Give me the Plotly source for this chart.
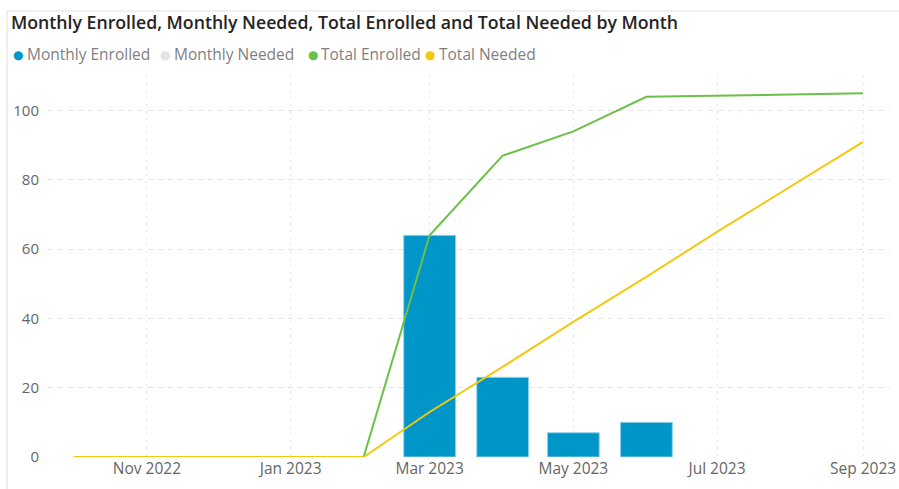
import plotly.graph_objects as go

# ---- data ----
months = ["2022-10-01", "2022-11-01", "2022-12-01", "2023-01-01", "2023-02-01",
          "2023-03-01", "2023-04-01", "2023-05-01", "2023-06-01", "2023-07-01",
          "2023-08-01", "2023-09-01"]
monthly_enrolled = [None, None, None, None, None, 64, 23, 7, 10, None, None, None]
monthly_needed = [None] * 12
total_enrolled = [0, 0, 0, 0, 0, 64, 87, 94, 104, None, None, 105]
total_needed = [0, 0, 0, 0, 0, 13, 26, 39, 52, 65, 78, 91]

series_names = ["Monthly Enrolled", "Monthly Needed", "Total Enrolled", "Total Needed"]
series_colors = ["#0096C8", "#E3E3E3", "#6CC04A", "#F2C811"]
title_text = "Monthly Enrolled, Monthly Needed, Total Enrolled and Total Needed by Month"

W, H = 899, 489
ML, MR, MT, MB = 48, 10, 76, 32
PW, PH = W - ML - MR, H - MT - MB

def px_x(p):
    return (p - ML) / PW

def px_y(p):
    return (H - MB - p) / PH

bar_width_ms = 22 * 86400000

fig = go.Figure()
fig.add_trace(go.Bar(x=months, y=monthly_enrolled, name=series_names[0],
                     marker=dict(color=series_colors[0], line=dict(color="#8fd0ea", width=1)),
                     width=bar_width_ms, showlegend=False))
fig.add_trace(go.Bar(x=months, y=monthly_needed, name=series_names[1],
                     marker=dict(color=series_colors[1]), width=bar_width_ms, showlegend=False))
fig.add_trace(go.Scatter(x=months, y=total_enrolled, name=series_names[2], mode="lines",
                         connectgaps=True, line=dict(color=series_colors[2], width=2),
                         showlegend=False))
fig.add_trace(go.Scatter(x=months, y=total_needed, name=series_names[3], mode="lines",
                         connectgaps=True, line=dict(color=series_colors[3], width=2),
                         showlegend=False))

font_family = "Open Sans, Noto Sans, DejaVu Sans, sans-serif"

# legend drawn as dot + text annotations
legend_dot_x = [18, 165, 313, 430]
legend_text_x = [26, 173, 320, 438]
annotations = []
for name, color, dx, tx in zip(series_names, series_colors, legend_dot_x, legend_text_x):
    annotations.append(dict(
        x=px_x(dx), y=px_y(54), xref="paper", yref="paper",
        xanchor="center", yanchor="middle", showarrow=False,
        text="●", font=dict(family=font_family, size=12, color=color),
    ))
    annotations.append(dict(
        x=px_x(tx - 1), y=px_y(54), xref="paper", yref="paper",
        xanchor="left", yanchor="middle", showarrow=False,
        text=name, font=dict(family=font_family, size=15.5, color="#7f7f7f"),
    ))

fig.update_layout(
    width=W, height=H,
    margin=dict(l=ML, r=MR, t=MT, b=MB, pad=0),
    paper_bgcolor="white", plot_bgcolor="white",
    title=dict(text=title_text, xref="container", yref="container",
               x=11 / W, xanchor="left", y=1 - 22.5 / H, yanchor="middle",
               font=dict(family=font_family, size=17.7, color="#252423", weight=600)),
    barmode="overlay",
    showlegend=False,
    annotations=annotations,
    xaxis=dict(type="date", range=["2022-09-20", "2023-09-12"], automargin=False,
               tick0="2022-11-01", dtick="M2", tickformat="%b %Y",
               showgrid=True, gridcolor="#E4E4E4", griddash="2px,5px", gridwidth=1,
               zeroline=False, showline=False, ticks="",
               tickfont=dict(family=font_family, size=15.5, color="#666666")),
    yaxis=dict(range=[0, 110], tickvals=[0, 20, 40, 60, 80, 100], automargin=False,
               showgrid=True, gridcolor="#E4E4E4", griddash="5px,5px", gridwidth=1,
               zeroline=False, showline=False, ticks="", ticklabelstandoff=8,
               tickfont=dict(family=font_family, size=15, color="#666666")),
    shapes=[
        dict(type="line", xref="paper", yref="paper", x0=px_x(7), x1=px_x(W),
             y0=px_y(11), y1=px_y(11), line=dict(color="#E0E0E0", width=1)),
        dict(type="line", xref="paper", yref="paper", x0=px_x(7), x1=px_x(7),
             y0=px_y(11), y1=px_y(H), line=dict(color="#E0E0E0", width=1)),
    ],
)

fig.write_html("out.html")
